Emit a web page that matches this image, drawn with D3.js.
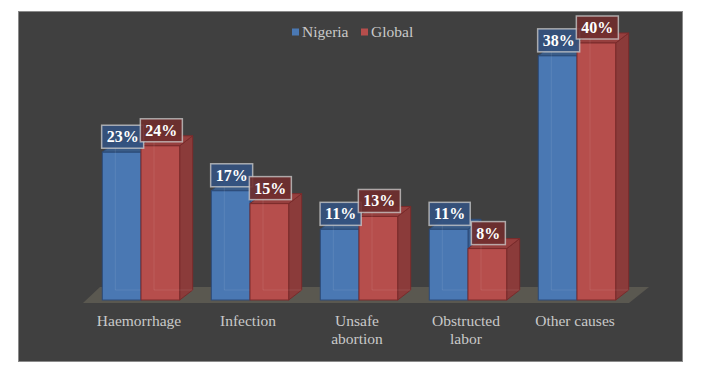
<!DOCTYPE html>
<html>
<head>
<meta charset="utf-8">
<script src="https://cdn.jsdelivr.net/npm/d3@7"></script>
<style>
  body { margin: 0; background: #fff; }
  svg { display: block; }
</style>
</head>
<body>
<svg width="721" height="386" font-family="Liberation Serif"></svg>
<script>
(function () {
  'use strict';

  const categories = ["Haemorrhage", "Infection", "Unsafe abortion", "Obstructed labor", "Other causes"];
  const labelLines = [["Haemorrhage"], ["Infection"], ["Unsafe", "abortion"], ["Obstructed", "labor"], ["Other causes"]];
  const seriesNames = ["Nigeria", "Global"];
  const nigeria = [23, 17, 11, 11, 38];
  const global = [24, 15, 13, 8, 40];

  const svg = d3.select("svg");
  const FONT = "Liberation Serif";

  // colours per series: front, side, top, edge, label box
  const pal = {
    Nigeria: {front: "#4a78b3", side: "#3a5f90", top: "#3a5c88", edge: "#2c4b78", box: "rgba(52,82,128,0.9)"},
    Global:  {front: "#b64e4c", side: "#8b3b3a", top: "#963f3e", edge: "#7a2b2b", box: "rgba(112,46,46,0.9)"}
  };

  // chart panel
  svg.append("rect")
    .attr("x", 18.5).attr("y", 11.5)
    .attr("width", 664).attr("height", 350)
    .attr("fill", "#404040")
    .attr("stroke", "#8a8a8a");

  const base = 300;           // front bottom of bars
  const dx = 13, dy = -10;    // bar depth

  const x0 = d3.scaleBand().domain(categories)
    .range([86.5, 631.5]).paddingInner(0.29).paddingOuter(0.145);
  const x1 = d3.scaleBand().domain(seriesNames).range([0, x0.bandwidth()]);
  const y = d3.scaleLinear().domain([0, 40]).range([base, 43]);

  // floor
  const fl = x0.range()[0] - 3.5, fr = x0.range()[1] - 2.5;
  svg.append("path")
    .attr("d", `M${fl},303 L${fr},303 L${fr + 20},287 L${fl + 17},287 Z`)
    .attr("fill", "#5a5850");

  const bars = [];
  categories.forEach((c, i) => {
    bars.push({cat: c, name: "Nigeria", v: nigeria[i]});
    bars.push({cat: c, name: "Global", v: global[i]});
  });

  const g = svg.append("g");
  bars.forEach(d => {
    const c = pal[d.name];
    const xl = x0(d.cat) + x1(d.name), w = x1.bandwidth();
    const xr = xl + w, yt = y(d.v);
    const b = g.append("g");
    // side
    b.append("path")
      .attr("d", `M${xr},${yt} L${xr + dx},${yt + dy} L${xr + dx},${base + dy} L${xr},${base} Z`)
      .attr("fill", c.side).attr("stroke", c.edge).attr("stroke-width", 1);
    // top
    b.append("path")
      .attr("d", `M${xl},${yt} L${xr},${yt} L${xr + dx},${yt + dy} L${xl + dx},${yt + dy} Z`)
      .attr("fill", c.top).attr("stroke", c.edge).attr("stroke-width", 1);
    // front
    b.append("rect")
      .attr("x", xl).attr("y", yt).attr("width", w).attr("height", base - yt)
      .attr("fill", c.front).attr("stroke", c.edge).attr("stroke-width", 1);
    // hidden back edges seen through the face
    b.append("path")
      .attr("d", `M${xl + dx},${yt + dy} L${xl + dx},${base + dy} L${xr + dx},${base + dy}`)
      .attr("fill", "none").attr("stroke", "rgba(255,255,255,0.09)").attr("stroke-width", 1);
  });

  // data labels
  const lab = svg.append("g");
  bars.forEach(d => {
    const c = pal[d.name];
    const cx = x0(d.cat) + x1(d.name) + x1.bandwidth() / 2 + 1;
    const bottom = y(d.v) - 4;
    const lg = lab.append("g");
    const box = lg.append("rect");
    const t = lg.append("text")
      .attr("x", cx).attr("y", bottom - 6)
      .attr("text-anchor", "middle")
      .attr("font-family", FONT)
      .attr("font-size", "16px").attr("font-weight", "bold")
      .attr("fill", "#ffffff")
      .text(d.v + "%");
    const tw = t.node().getComputedTextLength();
    box.attr("x", cx - tw / 2 - 5).attr("y", bottom - 23)
      .attr("width", tw + 10).attr("height", 23)
      .attr("fill", c.box)
      .attr("stroke", "rgba(205,205,205,0.75)").attr("stroke-width", 1.5);
  });

  // category labels
  const axis = svg.append("g");
  labelLines.forEach((lines, i) => {
    const cx = x0(categories[i]) + x0.bandwidth() / 2 - 2;
    const t = axis.append("text")
      .attr("text-anchor", "middle")
      .attr("font-family", FONT)
      .attr("font-size", "15.5px")
      .attr("fill", "#c9c9c9");
    lines.forEach((ln, k) => {
      t.append("tspan").attr("x", cx).attr("y", 326 + k * 17.5).text(ln);
    });
  });

  // legend
  const legendX = [292, 361];
  const leg = svg.append("g");
  seriesNames.forEach((n, i) => {
    leg.append("rect")
      .attr("x", legendX[i]).attr("y", 28.5).attr("width", 7).attr("height", 7)
      .attr("fill", pal[n].front);
    leg.append("text")
      .attr("x", legendX[i] + 10).attr("y", 37)
      .attr("font-family", FONT)
      .attr("font-size", "15.5px").attr("fill", "#c9c9c9")
      .text(n);
  });
}());
</script>
</body>
</html>
